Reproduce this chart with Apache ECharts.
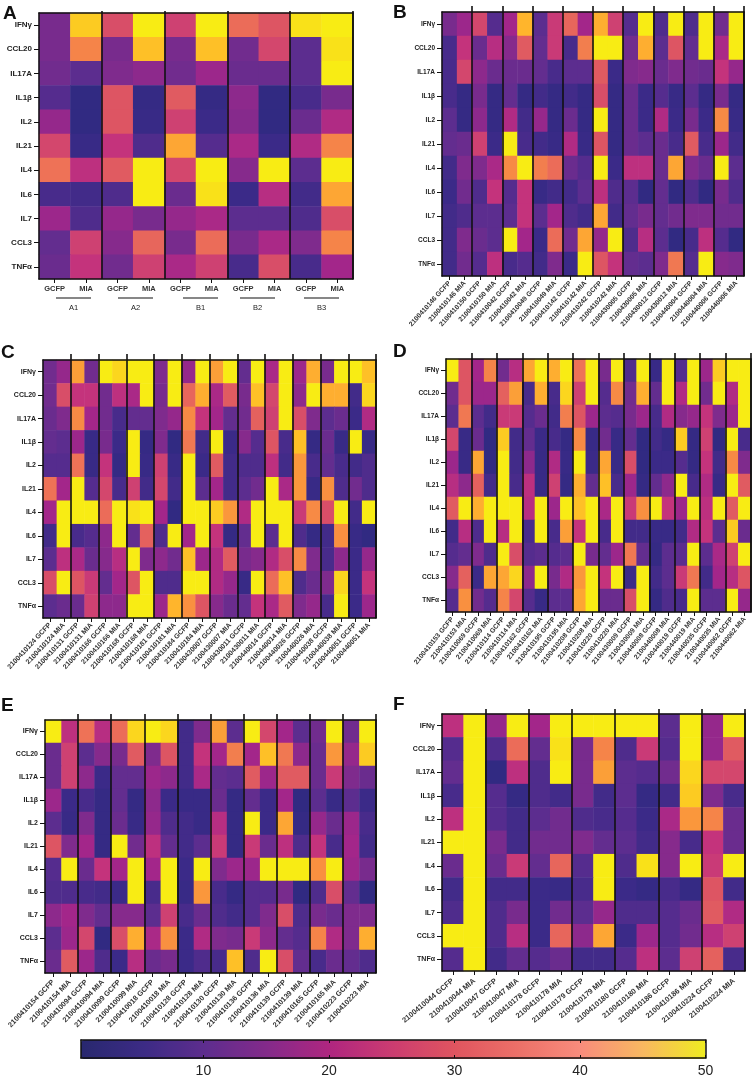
<!DOCTYPE html>
<html>
<head>
<meta charset="utf-8">
<style>
  html, body { margin: 0; padding: 0; background: #fff; }
  #chart { width: 754px; height: 1078px; }
</style>
<script src="https://cdn.jsdelivr.net/npm/echarts@6/dist/echarts.min.js"></script>
</head>
<body>
<div id="chart"></div>
<script>
const cytokines = ['IFNγ', 'CCL20', 'IL17A', 'IL1β', 'IL2', 'IL21', 'IL4', 'IL6', 'IL7', 'CCL3', 'TNFα'];
const conditions = ['GCFP', 'MIA'];

const samplesB = ['2100410146', '2100410150', '2100410042', '2100410049', '2100410142', '2100410242', '2100430005', '2100430012', '2100440004', '2100440006'];
const samplesC = ['2100410124', '2100410131', '2100410166', '2100410168', '2100410181', '2100410184', '2100430007', '2100430011', '2100440014', '2100440026', '2100440038', '2100440051'];
const samplesD = ['2100410153', '2100410069', '2100410114', '2100410162', '2100410195', '2100410208', '2100410220', '2100430009', '2100440008', '2100440019', '2100440035', '2100440062'];
const samplesE = ['2100410154', '2100410094', '2100410099', '2100410018', '2100410128', '2100410130', '2100410136', '2100410139', '2100410165', '2100410223'];
const samplesF = ['2100410044', '2100410047', '2100410178', '2100410179', '2100410180', '2100410186', '2100410224'];
const groupsA = ['A1', 'A2', 'B1', 'B2', 'B3'];

// one row per cytokine, GCFP/MIA pairs left to right
const valuesA = [
  [14, 47, 29, 50, 27, 50, 34, 30, 49, 50],
  [14, 38, 14, 46, 14, 46, 13, 28, 10, 49],
  [13, 10, 15, 17, 13, 19, 12, 12, 10, 50],
  [9, 2, 30, 3, 31, 3, 17, 2, 7, 14],
  [18, 2, 30, 4, 27, 5, 16, 2, 12, 22],
  [28, 4, 25, 8, 43, 9, 21, 5, 22, 38],
  [35, 24, 31, 50, 28, 50, 16, 50, 10, 50],
  [7, 6, 8, 50, 12, 49, 5, 23, 6, 43],
  [19, 8, 18, 14, 18, 21, 10, 10, 8, 29],
  [11, 27, 16, 33, 14, 34, 14, 21, 15, 38],
  [12, 25, 13, 27, 21, 27, 7, 29, 7, 20]
];
const valuesB = [
  [14, 19, 28, 9, 20, 45, 10, 26, 33, 20, 44, 27, 9, 50, 8, 50, 8, 50, 13, 50],
  [7, 25, 12, 23, 16, 31, 11, 26, 7, 37, 50, 50, 13, 44, 10, 30, 11, 50, 21, 50],
  [7, 28, 17, 12, 12, 12, 11, 7, 10, 10, 31, 5, 15, 16, 12, 15, 13, 12, 25, 18],
  [7, 3, 14, 3, 11, 3, 6, 3, 6, 3, 29, 3, 12, 5, 9, 4, 10, 3, 14, 3],
  [10, 3, 17, 3, 22, 6, 18, 3, 12, 3, 50, 3, 12, 5, 22, 5, 14, 5, 39, 4],
  [11, 12, 27, 5, 50, 7, 6, 4, 22, 4, 30, 3, 12, 10, 12, 7, 31, 7, 19, 6],
  [6, 15, 15, 21, 39, 50, 37, 34, 12, 9, 50, 5, 24, 24, 12, 43, 15, 12, 50, 10],
  [5, 13, 8, 25, 9, 25, 4, 6, 6, 10, 24, 8, 10, 2, 11, 2, 8, 2, 14, 8],
  [6, 8, 10, 10, 10, 25, 10, 20, 8, 6, 43, 6, 11, 14, 11, 13, 15, 15, 13, 13],
  [6, 15, 12, 10, 50, 20, 5, 34, 13, 43, 18, 50, 8, 23, 10, 2, 7, 24, 9, 2],
  [6, 13, 9, 24, 7, 9, 6, 15, 5, 50, 30, 25, 11, 10, 15, 36, 9, 50, 16, 15]
];
const valuesC = [
  [13, 18, 42, 13, 50, 48, 50, 50, 15, 50, 18, 50, 42, 50, 11, 50, 21, 50, 19, 44, 14, 50, 50, 46],
  [13, 29, 25, 25, 13, 24, 21, 50, 14, 50, 33, 44, 21, 31, 14, 46, 28, 50, 17, 50, 44, 44, 6, 48],
  [12, 15, 39, 20, 13, 7, 11, 11, 15, 18, 39, 25, 20, 11, 13, 32, 27, 50, 29, 15, 10, 12, 5, 22],
  [11, 10, 19, 4, 14, 5, 50, 3, 15, 2, 36, 6, 50, 5, 16, 9, 30, 7, 46, 3, 12, 4, 50, 4],
  [9, 9, 35, 4, 25, 3, 50, 4, 27, 4, 50, 5, 31, 6, 8, 8, 24, 6, 41, 7, 11, 7, 6, 8],
  [35, 20, 50, 9, 28, 7, 27, 6, 28, 6, 50, 10, 20, 6, 10, 13, 50, 21, 41, 4, 40, 8, 13, 8],
  [20, 50, 50, 50, 34, 50, 49, 50, 20, 2, 50, 50, 47, 41, 22, 50, 50, 50, 26, 39, 29, 50, 6, 50],
  [6, 50, 7, 9, 17, 50, 11, 32, 8, 50, 20, 50, 25, 3, 11, 50, 10, 50, 8, 3, 6, 40, 4, 2],
  [10, 24, 21, 12, 16, 23, 50, 15, 17, 13, 46, 19, 22, 31, 14, 16, 22, 29, 39, 15, 7, 17, 5, 18],
  [29, 50, 30, 26, 11, 20, 30, 50, 8, 8, 50, 50, 22, 18, 4, 50, 34, 46, 8, 12, 15, 48, 5, 25],
  [10, 12, 12, 27, 17, 17, 50, 50, 19, 45, 40, 30, 16, 12, 11, 25, 21, 31, 15, 18, 7, 50, 5, 19]
];
const valuesD = [
  [50, 30, 20, 38, 13, 23, 43, 50, 44, 50, 35, 50, 14, 50, 8, 50, 4, 50, 9, 50, 19, 47, 50, 50],
  [13, 30, 19, 19, 32, 42, 7, 44, 7, 48, 27, 50, 9, 39, 13, 44, 11, 50, 22, 50, 13, 50, 22, 50],
  [10, 36, 10, 6, 26, 26, 9, 12, 6, 37, 30, 19, 10, 9, 14, 19, 7, 22, 16, 18, 25, 15, 19, 50],
  [28, 4, 12, 2, 47, 6, 11, 5, 7, 3, 39, 4, 13, 4, 11, 2, 6, 3, 47, 3, 27, 2, 50, 7],
  [19, 4, 43, 2, 50, 6, 17, 4, 22, 4, 50, 5, 43, 4, 29, 2, 5, 5, 9, 3, 25, 6, 39, 15],
  [23, 17, 32, 6, 50, 7, 24, 4, 27, 3, 44, 11, 46, 7, 19, 3, 11, 17, 50, 7, 22, 4, 50, 31],
  [31, 50, 44, 50, 50, 50, 23, 50, 19, 50, 46, 50, 21, 50, 26, 40, 50, 25, 19, 50, 24, 50, 31, 50],
  [6, 23, 8, 50, 23, 50, 7, 50, 7, 42, 25, 50, 7, 50, 6, 6, 4, 4, 6, 22, 25, 10, 47, 12],
  [9, 11, 15, 8, 50, 29, 9, 10, 9, 10, 50, 14, 11, 19, 36, 11, 3, 10, 10, 50, 10, 21, 27, 50],
  [16, 32, 5, 43, 43, 48, 17, 50, 14, 22, 41, 50, 25, 50, 5, 50, 6, 10, 26, 36, 6, 20, 23, 30],
  [9, 40, 13, 9, 38, 28, 9, 4, 10, 10, 43, 50, 12, 12, 29, 50, 3, 8, 7, 50, 10, 10, 50, 18]
];
const valuesE = [
  [50, 24, 35, 23, 34, 48, 50, 48, 6, 15, 42, 10, 50, 28, 20, 10, 13, 50, 13, 50],
  [12, 27, 10, 16, 14, 31, 15, 30, 6, 25, 20, 37, 20, 46, 36, 17, 12, 41, 18, 47],
  [12, 27, 17, 5, 11, 11, 19, 17, 6, 21, 11, 10, 31, 19, 31, 31, 12, 26, 15, 12],
  [19, 5, 7, 3, 11, 3, 17, 5, 4, 4, 12, 3, 11, 5, 20, 2, 10, 4, 10, 5],
  [10, 4, 15, 3, 12, 4, 18, 8, 6, 4, 23, 3, 50, 5, 43, 3, 18, 12, 19, 7],
  [30, 15, 20, 3, 50, 13, 24, 11, 6, 10, 26, 3, 26, 12, 24, 8, 25, 7, 20, 6],
  [9, 50, 12, 25, 20, 50, 20, 50, 5, 50, 15, 19, 19, 50, 50, 50, 40, 50, 19, 14],
  [8, 8, 7, 6, 5, 50, 7, 50, 4, 41, 7, 3, 9, 9, 14, 2, 8, 29, 11, 2],
  [17, 20, 15, 11, 16, 16, 10, 27, 7, 12, 8, 6, 9, 15, 29, 8, 14, 12, 15, 15],
  [10, 19, 28, 2, 29, 44, 21, 40, 5, 22, 15, 14, 26, 17, 11, 9, 38, 22, 15, 44],
  [12, 31, 19, 8, 5, 23, 12, 14, 5, 8, 7, 46, 8, 50, 29, 11, 7, 12, 11, 8]
];
const valuesF = [
  [24, 50, 18, 50, 20, 50, 50, 50, 50, 50, 10, 50, 18, 50],
  [9, 50, 8, 34, 11, 49, 14, 38, 8, 26, 9, 50, 18, 31],
  [11, 50, 2, 24, 8, 50, 14, 42, 10, 9, 13, 48, 28, 28],
  [7, 50, 9, 3, 8, 6, 14, 6, 10, 3, 6, 47, 15, 7],
  [24, 50, 9, 6, 10, 13, 8, 7, 9, 5, 21, 41, 38, 12],
  [50, 50, 14, 6, 13, 13, 15, 11, 10, 6, 16, 7, 25, 12],
  [12, 50, 12, 26, 11, 33, 9, 50, 8, 49, 16, 50, 26, 50],
  [6, 50, 6, 6, 5, 4, 7, 50, 5, 3, 7, 3, 30, 6],
  [8, 50, 8, 14, 5, 13, 10, 18, 8, 8, 9, 12, 31, 22],
  [50, 50, 8, 23, 5, 33, 17, 43, 5, 19, 9, 13, 23, 27],
  [9, 50, 6, 11, 9, 12, 6, 6, 9, 24, 10, 27, 32, 7]
];
const colorbarTicks = [10, 20, 30, 40, 50];

// colours every 5 units from 0 to 50
const cellColors = ['#2b2a7e', '#3b2a88', '#5c2d8f', '#7f2b8d', '#a3268a', '#c4337c', '#dd5563', '#ee7257', '#f99040', '#ffb52c', '#f8ec14'];
const barColors = ['#28286f', '#3c2b85', '#5e2d8e', '#852a8a', '#b0267f', '#cc3c70', '#e0555f', '#ec7068', '#f98c7c', '#f9b860', '#efec20'];

const font = '"Liberation Sans", Arial, sans-serif';

const sampleLabels = ids => ids.flatMap(id => conditions.map(c => id + ' ' + c));

const panels = [
  { name: 'A', values: valuesA, labels: groupsA.flatMap(() => conditions), box: [39, 13, 314, 266], xFont: 7.5, yFont: 8, rotate: 0, margin: 6, over: 2, letter: [3, 4] },
  { name: 'B', values: valuesB, labels: sampleLabels(samplesB), box: [442, 12, 302, 264], xFont: 6.8, yFont: 6.5, rotate: 48, margin: 6, over: 6, letter: [393, 3] },
  { name: 'C', values: valuesC, labels: sampleLabels(samplesC), box: [43, 360, 333, 258], xFont: 7, yFont: 7, rotate: 47, margin: 6, over: 6, letter: [1, 343] },
  { name: 'D', values: valuesD, labels: sampleLabels(samplesD), box: [446, 359, 305, 253], xFont: 6.8, yFont: 6.5, rotate: 51, margin: 6, over: 6, letter: [393, 342] },
  { name: 'E', values: valuesE, labels: sampleLabels(samplesE), box: [45, 720, 331, 253], xFont: 7.3, yFont: 7, rotate: 46, margin: 8, over: 6, letter: [1, 696] },
  { name: 'F', values: valuesF, labels: sampleLabels(samplesF), box: [442, 714, 303, 257], xFont: 7.5, yFont: 7, rotate: 40, margin: 9, over: 5, letter: [393, 695] }
];

const option = { animation: false, backgroundColor: '#fff', title: [], grid: [], xAxis: [], yAxis: [], series: [], graphic: [] };

const hiddenParts = { axisLabel: { show: false }, axisTick: { show: false }, splitLine: { show: false } };
const frameLine = { show: true, onZero: false, lineStyle: { color: '#111', width: 1.5 } };

panels.forEach((p, i) => {
  const [left, top, width, height] = p.box;
  const xBase = option.xAxis.length;
  const yBase = option.yAxis.length;

  option.title.push({
    text: p.name, left: p.letter[0], top: p.letter[1], padding: 0,
    textStyle: { fontFamily: font, fontWeight: 'bold', fontSize: 19, color: '#111' }
  });
  option.grid.push({ left, top, width, height, containLabel: false });

  // bottom axis with the sample labels
  option.xAxis.push({
    type: 'category', gridIndex: i, data: p.labels, position: 'bottom', z: 10,
    axisLine: frameLine,
    axisTick: { show: true, alignWithLabel: true, length: 4, lineStyle: { color: '#111', width: 1 } },
    splitLine: { show: true, interval: k => k > 0 && k % 2 === 0, lineStyle: { color: '#111', width: 1.6 } },
    axisLabel: {
      interval: 0, rotate: p.rotate, margin: p.margin, fontFamily: font, fontWeight: 'bold',
      fontSize: p.xFont, color: '#333'
    }
  });
  // top axis: frame plus the separators poking over it
  option.xAxis.push({
    type: 'category', gridIndex: i, data: p.labels, position: 'top', z: 10,
    axisLine: frameLine,
    axisLabel: { show: false },
    splitLine: { show: false },
    axisTick: {
      show: true, inside: false, length: p.over, interval: k => k > 0 && k % 2 === 0 && k < p.labels.length,
      lineStyle: { color: '#111', width: 1.6 }
    }
  });
  option.yAxis.push({
    type: 'category', gridIndex: i, data: cytokines, inverse: true, position: 'left', z: 10,
    axisLine: frameLine,
    axisTick: { show: true, alignWithLabel: true, length: 5, lineStyle: { color: '#111', width: 1 } },
    splitLine: { show: false },
    axisLabel: { interval: 0, margin: 7, fontFamily: font, fontWeight: 'bold', fontSize: p.yFont, color: '#222' }
  });
  option.yAxis.push({
    type: 'category', gridIndex: i, data: cytokines, inverse: true, position: 'right', z: 10,
    axisLine: frameLine, ...hiddenParts
  });

  option.series.push({
    name: p.name,
    type: 'heatmap',
    xAxisIndex: xBase,
    yAxisIndex: yBase,
    data: p.values.flatMap((row, r) => row.map((v, c) => [c, r, v])),
    itemStyle: { borderWidth: 0 },
    progressive: 0
  });
});

// group bars and names under panel A
const groupSpans = [[56, 91], [118, 153], [183, 218], [240, 275], [304, 339]];
groupsA.forEach((g, i) => {
  const [a, b] = groupSpans[i];
  option.graphic.push({ type: 'line', shape: { x1: a, y1: 298, x2: b, y2: 298 }, style: { stroke: '#111', lineWidth: 1.2 } });
  option.graphic.push({
    type: 'text', x: (a + b) / 2, y: 308,
    style: { text: g, fill: '#222', font: '7.5px ' + font, textAlign: 'center', textVerticalAlign: 'middle' }
  });
});

// colour bar: visualMap gradient with an empty grid on top for the frame and ticks
const barBox = [81, 1040, 624.6, 19];
const barIdx = option.grid.length;
option.grid.push({ left: barBox[0], top: barBox[1], width: barBox[2], height: barBox[3] });
const barTick = { show: true, inside: true, length: 3, customValues: colorbarTicks, lineStyle: { color: '#111', width: 1 } };
option.xAxis.push({
  type: 'value', gridIndex: barIdx, min: 0.25, max: 50, position: 'bottom', z: 10,
  axisLine: { show: true, onZero: false, lineStyle: { color: '#111', width: 1.5 } },
  axisTick: barTick, splitLine: { show: false },
  axisLabel: { customValues: colorbarTicks, margin: 6, fontFamily: font, fontSize: 14, color: '#222', hideOverlap: false, showMaxLabel: true }
});
option.xAxis.push({
  type: 'value', gridIndex: barIdx, min: 0.25, max: 50, position: 'top', z: 10,
  axisLine: { show: true, onZero: false, lineStyle: { color: '#111', width: 1.5 } },
  axisTick: barTick, axisLabel: { show: false }, splitLine: { show: false }
});
option.yAxis.push({
  type: 'value', gridIndex: barIdx, min: 0, max: 1, position: 'left', z: 10,
  axisLine: { show: true, onZero: false, lineStyle: { color: '#111', width: 1.5 } }, ...hiddenParts
});
option.yAxis.push({
  type: 'value', gridIndex: barIdx, min: 0, max: 1, position: 'right', z: 10,
  axisLine: { show: true, onZero: false, lineStyle: { color: '#111', width: 1.5 } }, ...hiddenParts
});

option.visualMap = [
  {
    type: 'continuous', show: false, min: 0, max: 50,
    seriesIndex: panels.map((p, i) => i),
    inRange: { color: cellColors }
  },
  {
    type: 'continuous', show: true, min: 0, max: 50,
    seriesIndex: [],
    orient: 'horizontal', left: barBox[0], top: barBox[1], padding: 0,
    itemWidth: barBox[3], itemHeight: barBox[2],
    calculable: false, realtime: false, text: null, showLabel: false, hoverLink: false,
    inRange: { color: barColors }
  }
];

const chart = echarts.init(document.getElementById('chart'), null, { renderer: 'canvas' });
chart.setOption(option);
</script>
</body>
</html>
